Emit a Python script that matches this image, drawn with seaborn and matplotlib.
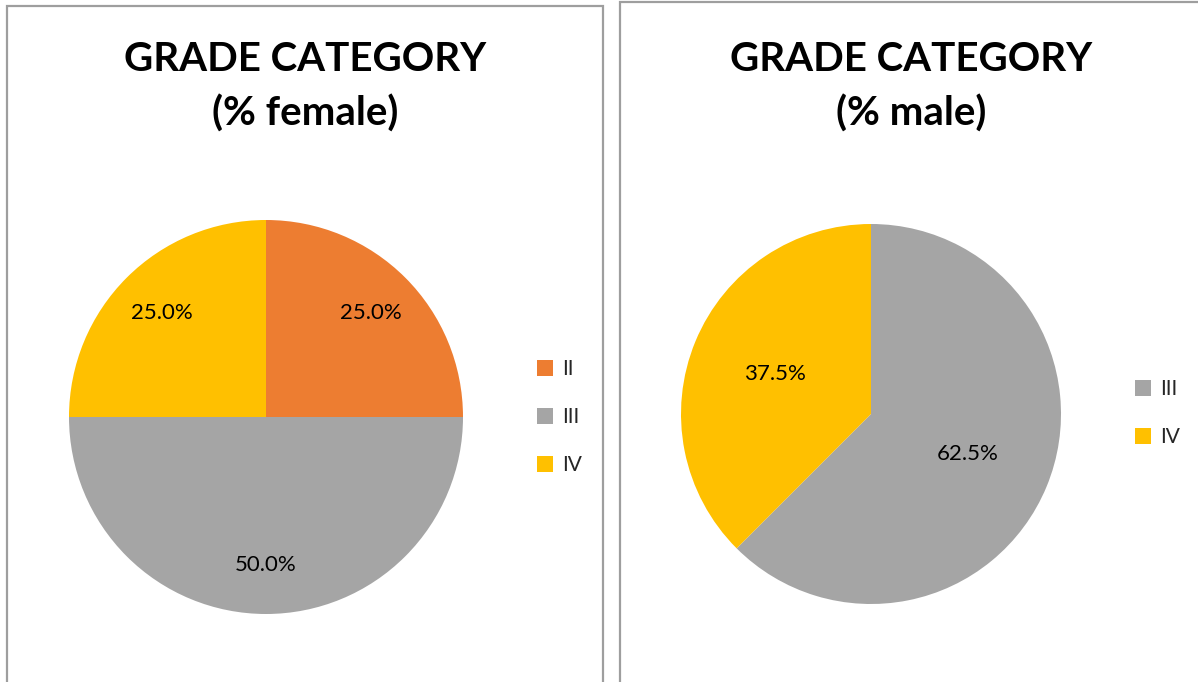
import matplotlib
matplotlib.use("Agg")
import matplotlib.pyplot as plt
import seaborn as sns
from matplotlib.patches import Rectangle

# data
female_labels = ["II", "III", "IV"]
female_values = [25.0, 50.0, 25.0]
male_labels = ["III", "IV"]
male_values = [62.5, 37.5]

grade_colors = {"II": "#ED7D31", "III": "#A5A5A5", "IV": "#FFC000"}

sns.set_theme(style="white")
plt.rcParams["font.family"] = ["Lato", "DejaVu Sans"]

W, H = 1198, 682
fig = plt.figure(figsize=(W / 100, H / 100), dpi=100)


def box(x, y, w, h):
    # pixel box (top-left origin) -> figure fraction
    return [x / W, (H - y - h) / H, w / W, h / H]


def draw_panel(rect, title, title_x, pie_box, labels, values, pctdist, leg_anchor):
    fig.patches.append(Rectangle((rect[0] / W, (H - rect[3]) / H),
                                 (rect[2] - rect[0]) / W, (rect[3] - rect[1]) / H,
                                 transform=fig.transFigure, fill=False,
                                 edgecolor="#9E9E9E", linewidth=1.6))
    fig.text(title_x / W, 1 - 87 / H, title, ha="center", va="center",
             fontsize=29, fontweight="bold", linespacing=1.55, color="black")
    ax = fig.add_axes(box(*pie_box))
    wedges, _, autotexts = ax.pie(values, colors=[grade_colors[l] for l in labels],
                                  startangle=90, counterclock=False,
                                  autopct="%.1f%%", pctdistance=pctdist,
                                  wedgeprops={"linewidth": 0},
                                  textprops={"fontsize": 16, "color": "black"})
    ax.set_xlim(-1, 1)
    ax.set_ylim(-1, 1)
    ax.set_aspect("equal")
    ax.axis("off")
    fig.legend(wedges, labels, loc="center left", bbox_to_anchor=leg_anchor,
               frameon=False, fontsize=15, handlelength=0.8, handleheight=0.8,
               handletextpad=0.4, labelspacing=1.35)


draw_panel((7, 6, 603, 720), "GRADE CATEGORY\n(% female)", 305,
           (69, 220, 394, 394), female_labels, female_values, 0.75,
           (518 / W, 1 - 417 / H))
draw_panel((620, 2, 1215, 720), "GRADE CATEGORY\n(% male)", 911,
           (681, 224, 380, 380), male_labels, male_values, 0.55,
           (1116 / W, 1 - 413 / H))

fig.savefig("out.png", dpi=100)
